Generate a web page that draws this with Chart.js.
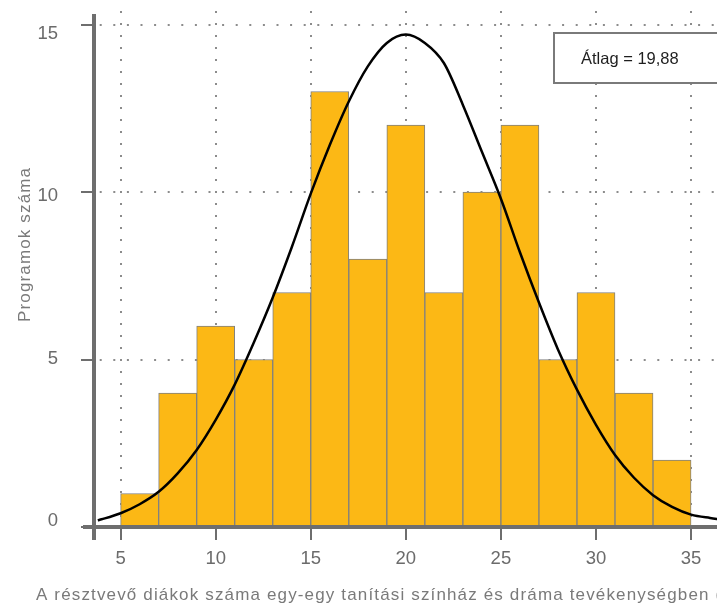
<!DOCTYPE html>
<html>
<head>
<meta charset="utf-8">
<script src="https://cdn.jsdelivr.net/npm/chart.js@4.4.1/dist/chart.umd.min.js"></script>
<style>
  html, body { margin: 0; padding: 0; background: #fff; overflow: hidden; }
  #wrap { width: 760px; height: 605px; }
</style>
</head>
<body>
<div id="wrap"><canvas id="hist" width="760" height="605"></canvas></div>
<script>
// bins are 2 wide, given by their centre
const binCenters = [6, 8, 10, 12, 14, 16, 18, 20, 22, 24, 26, 28, 30, 32, 34];
const binCounts = [1, 4, 6, 5, 7, 13, 8, 12, 7, 10, 12, 5, 7, 4, 2];

// normal curve over the histogram
const curveX = [3.8, 4, 5, 6, 7, 8, 9, 10, 11, 12, 13, 14, 15, 16, 17, 18, 19, 20,
  21, 22, 23, 24, 25, 26, 27, 28, 29, 30, 31, 32, 33, 34, 35, 36, 37, 38];
const curveY = [0.2, 0.23, 0.41, 0.68, 1.05, 1.6, 2.3, 3.2, 4.25, 5.5, 6.85, 8.35, 9.95, 11.4, 12.7, 13.75, 14.45, 14.7,
  14.45, 13.85, 12.6, 11.2, 9.8, 8.2, 6.7, 5.3, 4.1, 3.05, 2.15, 1.47, 0.95, 0.6, 0.37, 0.27, 0.2, 0.14];

const xTickValues = [5, 10, 15, 20, 25, 30, 35];
const yTickValues = [0, 5, 10, 15];

const meanText = 'Átlag = 19,88';
const xTitle = 'A résztvevő diákok száma egy-egy tanítási színház és dráma tevékenységben (fő)';
const yTitle = 'Programok száma';

const axisGray = '#6e6e6e';
const dotGray = '#8c8c8c';
const FONT = "'Liberation Sans', Arial, sans-serif";

const setTicks = (values) => (axis) => {
  axis.ticks = values.map((v) => ({ value: v }));
};

// axis lines, mean box and the two axis titles
const decorations = {
  id: 'decorations',
  afterDraw(chart) {
    const { ctx, chartArea: area } = chart;
    ctx.save();

    // L-shaped axes that run a little past the corner
    ctx.strokeStyle = axisGray;
    ctx.lineWidth = 4;
    ctx.beginPath();
    ctx.moveTo(area.left, area.top + 3);
    ctx.lineTo(area.left, area.bottom + 13);
    ctx.moveTo(area.left - 11, area.bottom);
    ctx.lineTo(area.right, area.bottom);
    ctx.stroke();

    // mean box, top right
    const boxLeft = 554, boxTop = 33, boxH = 50;
    ctx.fillStyle = '#fff';
    ctx.fillRect(boxLeft, boxTop, area.right - 10 - boxLeft, boxH);
    ctx.strokeStyle = '#7a7a7a';
    ctx.lineWidth = 2;
    ctx.strokeRect(boxLeft, boxTop, area.right - 10 - boxLeft, boxH);
    ctx.fillStyle = '#1e1e1e';
    ctx.font = '16.5px ' + FONT;
    ctx.textAlign = 'left';
    ctx.textBaseline = 'middle';
    ctx.fillText(meanText, boxLeft + 27, boxTop + boxH / 2 + 1);

    ctx.fillStyle = '#7a7a7a';
    ctx.font = '17px ' + FONT;
    ctx.letterSpacing = '1.15px';
    ctx.textBaseline = 'alphabetic';
    ctx.fillText(xTitle, 36, 600);

    ctx.translate(30, 322);
    ctx.rotate(-Math.PI / 2);
    ctx.fillText(yTitle, 0, 0);
    ctx.restore();
  }
};

new Chart(document.getElementById('hist'), {
  type: 'bar',
  data: {
    datasets: [
      {
        type: 'line',
        order: 0,
        data: curveX.map((x, i) => ({ x, y: curveY[i] })),
        borderColor: '#000',
        borderWidth: 2.5,
        pointRadius: 0,
        cubicInterpolationMode: 'monotone',
        fill: false
      },
      {
        type: 'bar',
        order: 1,
        data: binCenters.map((x, i) => ({ x, y: binCounts[i] })),
        backgroundColor: '#fcb815',
        borderColor: '#808080',
        borderWidth: 1,
        barPercentage: 1,
        categoryPercentage: 1
      }
    ]
  },
  options: {
    responsive: false,
    animation: false,
    events: [],
    layout: { padding: { top: 0, right: 10, left: 0, bottom: 0 } },
    plugins: { legend: { display: false }, tooltip: { enabled: false } },
    scales: {
      x: {
        type: 'linear',
        offset: false,
        min: 3.6,
        max: 38.1,
        afterBuildTicks: setTicks(xTickValues),
        afterFit: (s) => { s.height = 78; },
        grid: { offset: false, color: dotGray, lineWidth: 2, tickLength: 13, tickColor: axisGray, tickWidth: 2 },
        border: { display: false, width: 4, dash: [2, 10], dashOffset: 0 },
        ticks: { color: '#6b6b6b', font: { family: FONT, size: 18.5 }, padding: 8, maxRotation: 0 }
      },
      y: {
        type: 'linear',
        position: 'left',
        min: 0,
        max: 15.4,
        afterBuildTicks: setTicks(yTickValues),
        afterFit: (s) => { s.width = 28; },
        grid: { color: dotGray, lineWidth: 2, tickLength: 13, tickColor: axisGray, tickWidth: 2 },
        border: { display: false, width: 4, dash: [2, 11.6], dashOffset: 7.9 },
        ticks: { display: false }
      },
      yl: {
        type: 'linear',
        position: 'left',
        min: -0.185,
        max: 15.705,
        afterBuildTicks: setTicks(yTickValues),
        afterFit: (s) => { s.width = 66; },
        grid: { display: false },
        border: { display: false },
        ticks: { color: '#6b6b6b', font: { family: FONT, size: 18.5 }, padding: 0 }
      }
    }
  },
  plugins: [decorations]
});
</script>
</body>
</html>
